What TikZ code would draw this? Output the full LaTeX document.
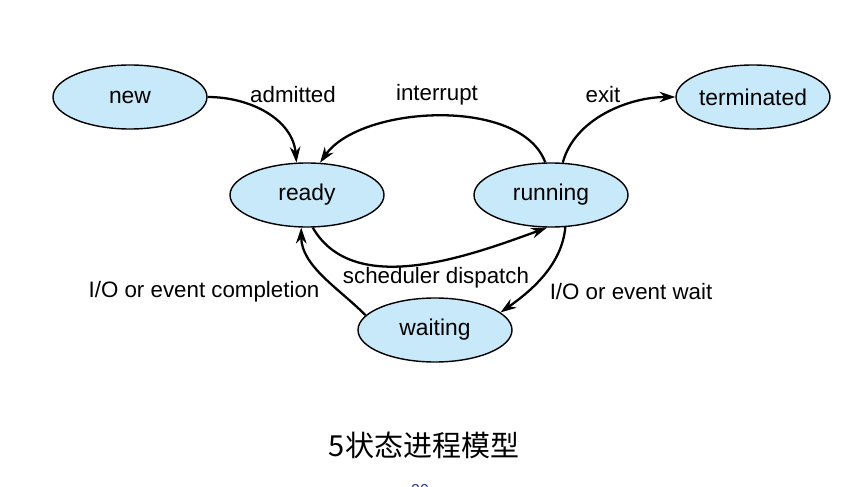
\documentclass[tikz,border=0pt]{standalone}
\usepackage{fontspec}
\setmainfont{Liberation Sans}
\newfontfamily\cjk{Noto Sans CJK SC}
\usetikzlibrary{shapes.geometric,arrows.meta}

\definecolor{stateblue}{RGB}{200,233,250}
\definecolor{pagenum}{RGB}{40,60,150}

\tikzset{
  state/.style={ellipse,draw,fill=stateblue,line width=0.8pt,
    minimum width=3.08cm,minimum height=1.28cm,inner sep=0pt,
    font=\fontsize{13}{15}\selectfont},
  lbl/.style={font=\fontsize{12.7}{14}\selectfont},
  arr/.style={-{Stealth[length=9pt,width=6pt]},line width=1.3pt}
}

\begin{document}
\begin{tikzpicture}

\useasboundingbox (0,0) rectangle (17.14,9.72);

% Estados
\node[state] (new) at (2.6,7.78) {new};
\node[state] (ready) at (6.14,5.82) {ready};
\node[state] (running) at (11.02,5.82) {running};
\node[state] (terminated) at (15.06,7.78) {terminated};
\node[state] (waiting) at (8.7,3.12) {waiting};

% Transiciones
\draw[arr] (new.east) to[out=0,in=95] (ready.108);
\draw[arr] (running.100) to[out=110,in=55,looseness=0.8] (ready.68);
\draw[arr] (running.70) to[out=75,in=180,looseness=0.9] (terminated.west);
\draw[arr] (ready.-80) to[out=-60,in=200,looseness=0.9] (running.-97);
\draw[arr] (running.-66) to[out=-95,in=35,looseness=0.9] (waiting.15);
\draw[arr] (waiting.168) to[out=135,in=-90,looseness=0.9] (ready.-100);

% Etiquetas
\node[lbl] (admitted) at (5.86,7.82) {admitted};
\node[lbl] (interrupt) at (8.74,7.82) {interrupt};
\node[lbl] (exit) at (12.06,7.82) {exit};
\node[lbl] (dispatch) at (8.72,4.16) {scheduler dispatch};
\node[lbl] (completion) at (4.08,3.88) {I/O or event completion};
\node[lbl] (wait) at (12.62,3.88) {I/O or event wait};

% Titulo
\node (caption) at (8.48,0.82) {\fontsize{16.5}{18}\selectfont\cjk 5状态进程模型};
\node[text=pagenum,font=\fontsize{9}{10}\selectfont] (page) at (8.4,-0.08) {20};

\end{tikzpicture}
\end{document}
